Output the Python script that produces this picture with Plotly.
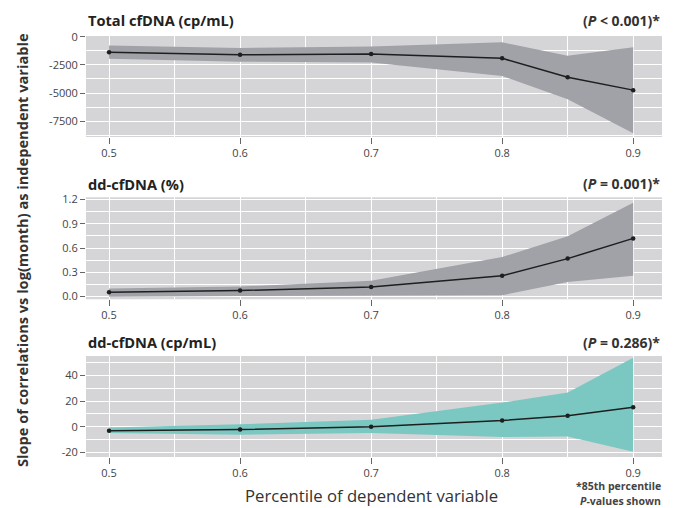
import plotly.graph_objects as go

x = [0.5, 0.6, 0.7, 0.8, 0.85, 0.9]

# Panel 1: Total cfDNA (cp/mL)
total_mid = [-1370, -1600, -1540, -1920, -3600, -4740]
total_hi = [-790, -1000, -880, -500, -1690, -930]
total_lo = [-1950, -2220, -2300, -3490, -5550, -8570]

# Panel 2: dd-cfDNA (%)
pct_mid = [0.055, 0.075, 0.12, 0.257, 0.47, 0.72]
pct_hi = [0.10, 0.125, 0.195, 0.49, 0.745, 1.16]
pct_lo = [0.0, 0.008, 0.017, 0.017, 0.18, 0.257]

# Panel 3: dd-cfDNA (cp/mL)
cp_mid = [-3.0, -2.1, 0.0, 4.9, 8.6, 15.3]
cp_hi = [-0.5, 2.0, 5.5, 18.9, 26.7, 54.0]
cp_lo = [-4.9, -6.2, -4.9, -8.0, -7.6, -19.5]

titles = ["Total cfDNA (cp/mL)", "dd-cfDNA (%)", "dd-cfDNA (cp/mL)"]
pvals = ["(<i>P</i> < 0.001)*", "(<i>P</i> = 0.001)*", "(<i>P</i> = 0.286)*"]

y1_ticks = [0, -2500, -5000, -7500]
y1_text = ["0", "-2500", "-5000", "-7500"]
y2_ticks = [0.0, 0.3, 0.6, 0.9, 1.2]
y2_text = ["0.0", "0.3", "0.6", "0.9", "1.2"]
y3_ticks = [-20, 0, 20, 40]
y3_text = ["-20", "0", "20", "40"]
x_ticks = [0.5, 0.6, 0.7, 0.8, 0.9]

BG = "#d5d5d7"
GRAY = "#a0a2a8"
TEAL = "#7bc8c3"
FONT = "Open Sans"

panels = [
    (total_mid, total_hi, total_lo, GRAY, y1_ticks, y1_text, 1250, [-8900, 60], [0.760, 1.0]),
    (pct_mid, pct_hi, pct_lo, GRAY, y2_ticks, y2_text, 0.15, [-0.033, 1.228], [0.3746, 0.6169]),
    (cp_mid, cp_hi, cp_lo, TEAL, y3_ticks, y3_text, 10, [-23.6, 55.3], [0.0, 0.2399]),
]

fig = go.Figure()
layout = {}
for i, (mid, hi, lo, col, yt, ytt, mdt, yr, dom) in enumerate(panels):
    n = i + 1
    xa = "x" if n == 1 else f"x{n}"
    ya = "y" if n == 1 else f"y{n}"
    fig.add_trace(go.Scatter(x=x + x[::-1], y=hi + lo[::-1], fill="toself",
                             fillcolor=col, line=dict(width=0), mode="lines",
                             hoverinfo="skip", showlegend=False, xaxis=xa, yaxis=ya))
    fig.add_trace(go.Scatter(x=x, y=mid, mode="lines+markers",
                             line=dict(color="#1e1e1e", width=1.5),
                             marker=dict(size=4.5, color="#1e1e1e"),
                             showlegend=False, xaxis=xa, yaxis=ya))
    xname = "xaxis" if n == 1 else f"xaxis{n}"
    yname = "yaxis" if n == 1 else f"yaxis{n}"
    layout[xname] = dict(
        domain=[0, 1], anchor=ya, range=[0.4824, 0.922],
        tickvals=x_ticks, ticktext=[f"{v:.1f}" for v in x_ticks],
        showgrid=True, gridcolor="white", gridwidth=1.3,
        minor=dict(dtick=0.05, tick0=0.5, showgrid=True, gridcolor="white", gridwidth=1, ticks=""),
        ticks="outside", ticklen=6, tickcolor="#666", tickwidth=1,
        tickfont=dict(family=FONT, size=11, color="#444"),
        zeroline=False, showline=False, automargin=False,
    )
    layout[yname] = dict(
        domain=dom, anchor=xa, range=yr,
        tickvals=yt, ticktext=ytt,
        showgrid=True, gridcolor="white", gridwidth=1.3,
        minor=dict(dtick=mdt, tick0=0, showgrid=True, gridcolor="white", gridwidth=1, ticks=""),
        ticks="outside", ticklen=5, tickcolor="#666", tickwidth=1,
        tickfont=dict(family=FONT, size=11, color="#444"),
        zeroline=False, showline=False, automargin=False,
    )

annotations = []
title_y = [20, 184, 342]
for t, p, ty in zip(titles, pvals, title_y):
    annotations.append(dict(text=f"<b>{t}</b>", xref="paper", yref="paper",
                            x=0, y=(457 - ty) / 421, xanchor="left", yanchor="middle",
                            showarrow=False, font=dict(family=FONT, size=14.6, color="#222")))
    annotations.append(dict(text=f"<b>{p}</b>", xref="paper", yref="paper",
                            x=1, y=(457 - ty) / 421, xanchor="right", yanchor="middle",
                            showarrow=False, font=dict(family=FONT, size=14, color="#333")))

annotations.append(dict(text="<b>Slope of correlations vs log(month) as independent variable</b>",
                        xref="paper", yref="paper", x=(22 - 86) / 576, y=(457 - 250) / 421,
                        xanchor="center", yanchor="middle", textangle=-90, showarrow=False,
                        font=dict(family=FONT, size=14.6, color="#333")))
annotations.append(dict(text="Percentile of dependent variable",
                        xref="paper", yref="paper", x=(371 - 86) / 576, y=(457 - 495) / 421,
                        xanchor="center", yanchor="middle", showarrow=False,
                        font=dict(family=FONT, size=16.7, color="#333")))
for line, ly in [("<b>*85th percentile</b>", 486), ("<b><i>P</i>-values shown</b>", 500.5)]:
    annotations.append(dict(text=line, xref="paper", yref="paper", x=1, y=(457 - ly) / 421,
                            xanchor="right", yanchor="middle", align="right", showarrow=False,
                            borderpad=0, font=dict(family=FONT, size=10.5, color="#444")))

fig.update_layout(
    width=676, height=508,
    margin=dict(l=86, r=14, t=36, b=51),
    paper_bgcolor="white", plot_bgcolor=BG,
    annotations=annotations,
    **layout,
)

fig.write_html("out.html", config={"displayModeBar": False},
               post_script="document.body.style.margin='0';document.body.style.padding='0';")
